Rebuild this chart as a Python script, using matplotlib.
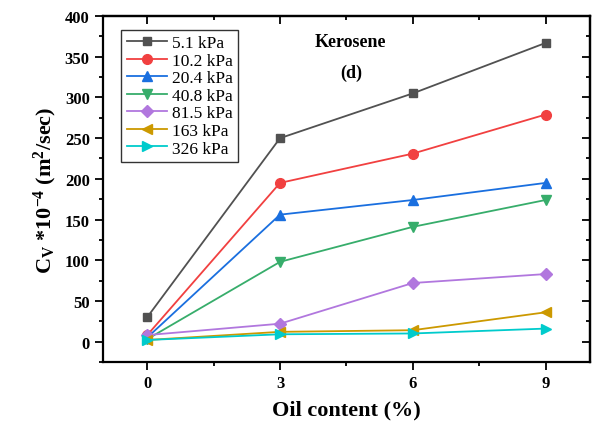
import matplotlib
matplotlib.use('Agg')
import matplotlib.pyplot as plt
from matplotlib.ticker import MultipleLocator

oil = [0, 3, 6, 9]
labels = ['5.1 kPa', '10.2 kPa', '20.4 kPa', '40.8 kPa', '81.5 kPa', '163 kPa', '326 kPa']
cv_51 = [30, 250, 305, 367]
cv_102 = [8, 195, 231, 279]
cv_204 = [5, 156, 174, 195]
cv_408 = [3, 98, 141, 174]
cv_815 = [8, 22, 72, 83]
cv_163 = [2, 12, 14, 36]
cv_326 = [2, 9, 10, 16]
series = [cv_51, cv_102, cv_204, cv_408, cv_815, cv_163, cv_326]

colores = ['#515151', '#F14040', '#1A6FDF', '#37AD6B', '#B177DE', '#CC9900', '#00CBCC']
marcadores = ['s', 'o', '^', 'v', 'D', '<', '>']
tamanos = [6, 7, 7, 7, 6, 7, 7]

plt.rcParams['font.family'] = ['Liberation Serif', 'DejaVu Serif']
plt.rcParams['mathtext.fontset'] = 'custom'
plt.rcParams['mathtext.rm'] = 'Liberation Serif:bold'
plt.rcParams['mathtext.it'] = 'Liberation Serif:bold'
plt.rcParams['mathtext.bf'] = 'Liberation Serif:bold'

fig = plt.figure(figsize=(5.97, 4.27), dpi=100)
ax = fig.add_axes([0.1725, 0.150, 0.8155, 0.810])

for vals, lab, c, m, s in zip(series, labels, colores, marcadores, tamanos):
    ax.plot(oil, vals, color=c, marker=m, ms=s, lw=1.3, label=lab)

ax.set_xlim(-1, 10)
ax.set_ylim(-25, 400)
ax.xaxis.set_major_locator(MultipleLocator(3))
ax.xaxis.set_minor_locator(MultipleLocator(1.5))
ax.yaxis.set_major_locator(MultipleLocator(50))
ax.yaxis.set_minor_locator(MultipleLocator(25))
# abajo/izquierda hacia fuera, arriba/derecha hacia dentro (estilo Origin)
ax.tick_params(which='both', direction='out', width=1.3)
ax.tick_params(which='major', length=6, labelsize=12)
ax.tick_params(which='minor', length=3)
ax2 = ax.secondary_xaxis('top')
ax2.xaxis.set_major_locator(MultipleLocator(3))
ax2.xaxis.set_minor_locator(MultipleLocator(1.5))
ax2.tick_params(which='both', direction='in', width=1.3, labeltop=False)
ax2.tick_params(which='major', length=6)
ax2.tick_params(which='minor', length=3)
ax3 = ax.secondary_yaxis('right')
ax3.yaxis.set_major_locator(MultipleLocator(50))
ax3.yaxis.set_minor_locator(MultipleLocator(25))
ax3.tick_params(which='both', direction='in', width=1.3, labelright=False)
ax3.tick_params(which='major', length=6)
ax3.tick_params(which='minor', length=3)
for sec in (ax2, ax3):
    for sp in sec.spines.values():
        sp.set_linewidth(1.6)

for lab in ax.get_xticklabels() + ax.get_yticklabels():
    lab.set_fontweight('bold')
for sp in ax.spines.values():
    sp.set_linewidth(1.6)

ax.set_xlabel('Oil content (%)', fontsize=16, fontweight='bold', labelpad=6)
ax.set_ylabel(r'C$_V$ *10$^{-4}$ (m$^2$/sec)', fontsize=16, fontweight='bold')

ax.text(4.58, 369, 'Kerosene', fontsize=13, fontweight='bold', ha='center', va='center')
ax.text(4.6, 331, '(d)', fontsize=13, fontweight='bold', ha='center', va='center')

ax.legend(loc='upper left', fontsize=12.5, frameon=True, fancybox=False, edgecolor='black',
          handlelength=2.3, labelspacing=0.08, borderpad=0.3, handletextpad=0.3,
          bbox_to_anchor=(0.02, 0.985))

plt.savefig('out.png', dpi=100, facecolor='white')
plt.close()
